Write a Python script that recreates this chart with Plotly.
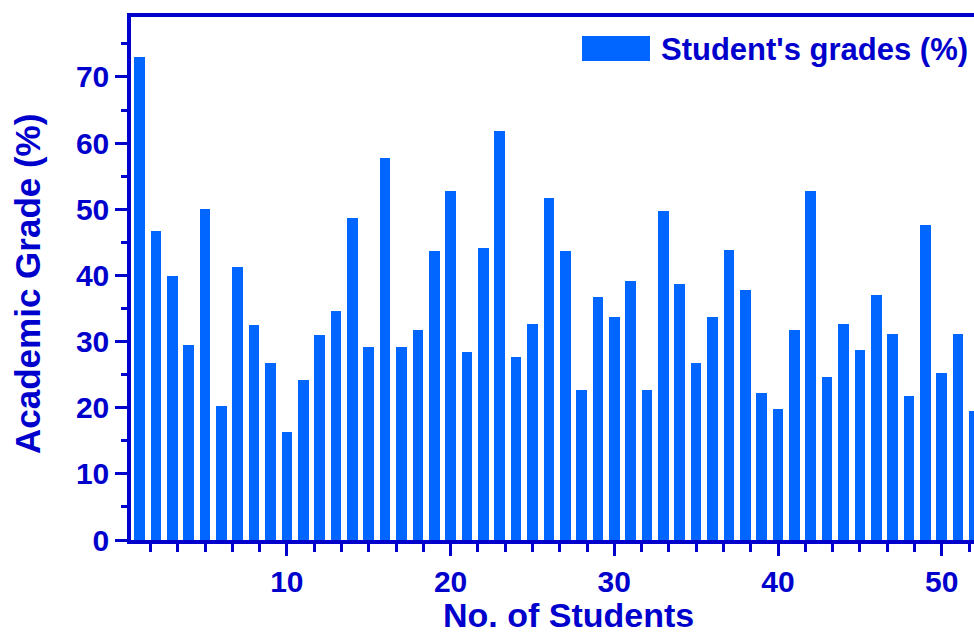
import plotly.graph_objects as go

# Student numbers and their academic grades (%)
students = list(range(1, 53))
grades = [
    73.0, 46.7, 39.9, 29.5, 50.0, 20.2, 41.3, 32.5, 26.8, 16.4,
    24.2, 31.0, 34.6, 48.7, 29.2, 57.7, 29.2, 31.7, 43.7, 52.7,
    28.4, 44.2, 61.9, 27.6, 32.7, 51.7, 43.7, 22.7, 36.8, 33.7,
    39.2, 22.7, 49.7, 38.7, 26.7, 33.7, 43.8, 37.8, 22.2, 19.8,
    31.7, 52.7, 24.7, 32.7, 28.7, 37.1, 31.2, 21.7, 47.6, 25.2,
    31.2, 19.5,
]
series_name = "Student's grades (%)"
x_title = "No. of Students"
y_title = "Academic Grade (%)"

BAR = "#0066FF"
INK = "#0000CC"
FONT = "Liberation Sans, Arial, sans-serif"

W, H = 974, 635
L, R, T, B = 131, 0, 17, 95
PW, PH = W - L - R, H - T - B


def px_x(p):
    return (p - L) / PW


def px_y(p):
    return (H - B - p) / PH


fig = go.Figure()
fig.add_trace(go.Bar(
    x=students, y=grades, name=series_name, width=0.65,
    marker=dict(color=BAR, line=dict(width=0)),
    showlegend=False,
))

axis_common = dict(
    showline=True, linecolor=INK, linewidth=3.5,
    ticks="outside", tickcolor=INK, tickwidth=3, ticklen=12,
    tickfont=dict(family=FONT, size=30, color=INK, weight="bold"),
    showgrid=False, zeroline=False,
)

fig.update_layout(
    width=W, height=H,
    margin=dict(l=L, r=R, t=T, b=B),
    plot_bgcolor="white", paper_bgcolor="white",
    bargap=0,
    xaxis=dict(
        **axis_common,
        range=[0.48, 51.97], dtick=10, tick0=0, mirror=True,
        minor=dict(dtick=10 / 6, tick0=0, ticks="outside", ticklen=8,
                   tickwidth=3, tickcolor=INK),
    ),
    yaxis=dict(
        **axis_common,
        range=[0, 79.07], dtick=10, tick0=0,
        minor=dict(dtick=5, ticks="outside", ticklen=6,
                   tickwidth=3, tickcolor=INK),
    ),
)

# Axis titles
fig.add_annotation(xref="paper", yref="paper", x=px_x(568), y=px_y(635),
                   xanchor="center", yanchor="bottom", showarrow=False,
                   text=x_title, borderpad=0,
                   font=dict(family=FONT, size=34, color=INK, weight="bold"))
fig.add_annotation(xref="paper", yref="paper", x=px_x(27), y=px_y(284),
                   xanchor="center", yanchor="middle", showarrow=False,
                   textangle=-90, text=y_title,
                   font=dict(family=FONT, size=35, color=INK, weight="bold"))

# Legend: coloured swatch with the series label beside it
fig.add_shape(type="rect", xref="paper", yref="paper",
              x0=px_x(582), x1=px_x(650), y0=px_y(61), y1=px_y(36),
              fillcolor=BAR, line=dict(width=0))
fig.add_annotation(xref="paper", yref="paper",
                   x=px_x(659), y=px_y(49),
                   xanchor="left", yanchor="middle", showarrow=False,
                   text=series_name,
                   font=dict(family=FONT, size=31, color=INK, weight="bold"))

fig.write_html("out.html")
